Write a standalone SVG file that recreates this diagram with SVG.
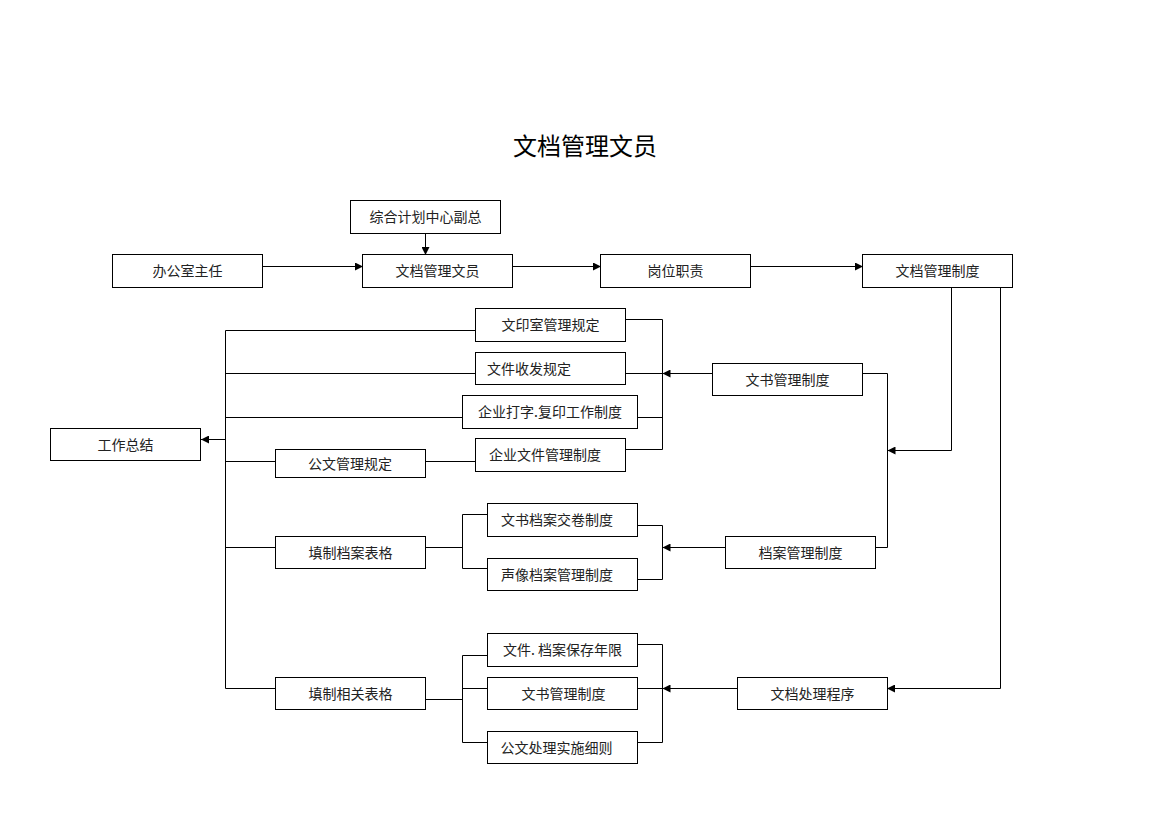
<svg xmlns="http://www.w3.org/2000/svg" width="1169" height="826" viewBox="0 0 1169 826">
<style>
.box{fill:#fff;stroke:#000;stroke-width:1}
.t{font-family:"Noto Sans CJK SC","Liberation Sans",sans-serif;font-size:14px;fill:#222;text-anchor:middle}
.tl{text-anchor:start}
.title{font-family:"Noto Sans CJK SC","Liberation Sans",sans-serif;font-size:24px;fill:#000;text-anchor:middle}
.c{fill:none;stroke:#000;stroke-width:1}
.a{marker-end:url(#arr)}
</style>
<defs>
<marker id="arr" viewBox="0 0 10 10" refX="10" refY="5" markerWidth="8" markerHeight="8" markerUnits="userSpaceOnUse" orient="auto">
<path d="M0,0 L10,5 L0,10 Z" fill="#000"/>
</marker>
</defs>
<rect width="1169" height="826" fill="#fff"/>
<text class="title" x="585" y="155">文档管理文员</text>
<g id="connectors">
<path class="c a" d="M425.5,233 V255"/>
<path class="c a" d="M263,266.5 H363"/>
<path class="c a" d="M513,266.5 H601"/>
<path class="c a" d="M751,266.5 H863"/>
<path class="c" d="M225.5,330.5 V688.5"/>
<path class="c a" d="M225.5,439.5 H201"/>
<path class="c" d="M225.5,330.5 H475"/>
<path class="c" d="M225.5,373.5 H475"/>
<path class="c" d="M225.5,417.5 H462"/>
<path class="c" d="M225.5,461.5 H276"/>
<path class="c" d="M426,461.5 H475"/>
<path class="c" d="M626,319.5 H662.5 V449.5 H626"/>
<path class="c" d="M626,373.5 H662.5"/>
<path class="c" d="M637,417.5 H662.5"/>
<path class="c a" d="M712,373.5 H662.5"/>
<path class="c" d="M862,373.5 H887.5 V547.5 H876"/>
<path class="c a" d="M951.5,287 V450.5 H887.5"/>
<path class="c a" d="M725,547.5 H662.5"/>
<path class="c" d="M637,525.5 H662.5 V579.5 H637"/>
<path class="c" d="M225.5,547.5 H276"/>
<path class="c" d="M426,547.5 H462.5"/>
<path class="c" d="M487,514.5 H462.5 V568.5 H487"/>
<path class="c" d="M225.5,688.5 H276"/>
<path class="c" d="M426,699.5 H462.5"/>
<path class="c" d="M487,655.5 H462.5 V742.5 H487"/>
<path class="c" d="M462.5,688.5 H487"/>
<path class="c" d="M637,644.5 H662.5 V742.5 H637"/>
<path class="c" d="M637,688.5 H662.5"/>
<path class="c a" d="M737,688.5 H662.5"/>
<path class="c a" d="M1000.5,287 V688.5 H887"/>
</g>
<g id="n-fuzong"><rect class="box" x="350.5" y="200.5" width="150" height="33"/><text class="t" x="425.5" y="222">综合计划中心副总</text></g>
<g id="n-bangongshi"><rect class="box" x="112.5" y="254.5" width="150" height="33"/><text class="t" x="187.5" y="276">办公室主任</text></g>
<g id="n-wenyuan"><rect class="box" x="362.5" y="254.5" width="150" height="33"/><text class="t" x="437.5" y="276">文档管理文员</text></g>
<g id="n-gangwei"><rect class="box" x="600.5" y="254.5" width="150" height="33"/><text class="t" x="675.5" y="276">岗位职责</text></g>
<g id="n-zhidu"><rect class="box" x="862.5" y="254.5" width="150" height="33"/><text class="t" x="937.5" y="276">文档管理制度</text></g>
<g id="n-zongjie"><rect class="box" x="50.5" y="428.5" width="150" height="32"/><text class="t" x="125.5" y="450">工作总结</text></g>
<g id="n-wenyinshi"><rect class="box" x="475.5" y="308.5" width="150" height="33"/><text class="t" x="550.5" y="330">文印室管理规定</text></g>
<g id="n-shoufa"><rect class="box" x="475.5" y="352.5" width="150" height="32"/><text class="t tl" x="487" y="373.5">文件收发规定</text></g>
<g id="n-daziyin"><rect class="box" x="462.5" y="395.5" width="175" height="33"/><text class="t" x="550" y="417">企业打字.复印工作制度</text></g>
<g id="n-qiyewenjian"><rect class="box" x="475.5" y="438.5" width="150" height="33"/><text class="t" x="545" y="460">企业文件管理制度</text></g>
<g id="n-gongwen"><rect class="box" x="275.5" y="449.5" width="150" height="28"/><text class="t" x="350" y="468.5">公文管理规定</text></g>
<g id="n-wenshu1"><rect class="box" x="712.5" y="363.5" width="150" height="32"/><text class="t" x="787.5" y="384.5">文书管理制度</text></g>
<g id="n-tianzhidangan"><rect class="box" x="275.5" y="536.5" width="150" height="32"/><text class="t" x="350.5" y="557.5">填制档案表格</text></g>
<g id="n-jiaojuan"><rect class="box" x="487.5" y="503.5" width="150" height="33"/><text class="t" x="557" y="525">文书档案交卷制度</text></g>
<g id="n-shengxiang"><rect class="box" x="487.5" y="558.5" width="150" height="32"/><text class="t" x="557" y="579.5">声像档案管理制度</text></g>
<g id="n-dangan"><rect class="box" x="725.5" y="536.5" width="150" height="32"/><text class="t" x="800.5" y="557.5">档案管理制度</text></g>
<g id="n-tianzhixiangguan"><rect class="box" x="275.5" y="677.5" width="150" height="32"/><text class="t" x="350.5" y="698.5">填制相关表格</text></g>
<g id="n-nianxian"><rect class="box" x="487.5" y="633.5" width="150" height="33"/><text class="t" x="562.5" y="655">文件. 档案保存年限</text></g>
<g id="n-wenshu2"><rect class="box" x="487.5" y="677.5" width="150" height="32"/><text class="t" x="563.5" y="698.5">文书管理制度</text></g>
<g id="n-xize"><rect class="box" x="487.5" y="731.5" width="150" height="32"/><text class="t" x="556.5" y="752.5">公文处理实施细则</text></g>
<g id="n-chengxu"><rect class="box" x="737.5" y="677.5" width="150" height="32"/><text class="t" x="812.5" y="698.5">文档处理程序</text></g>
</svg>
